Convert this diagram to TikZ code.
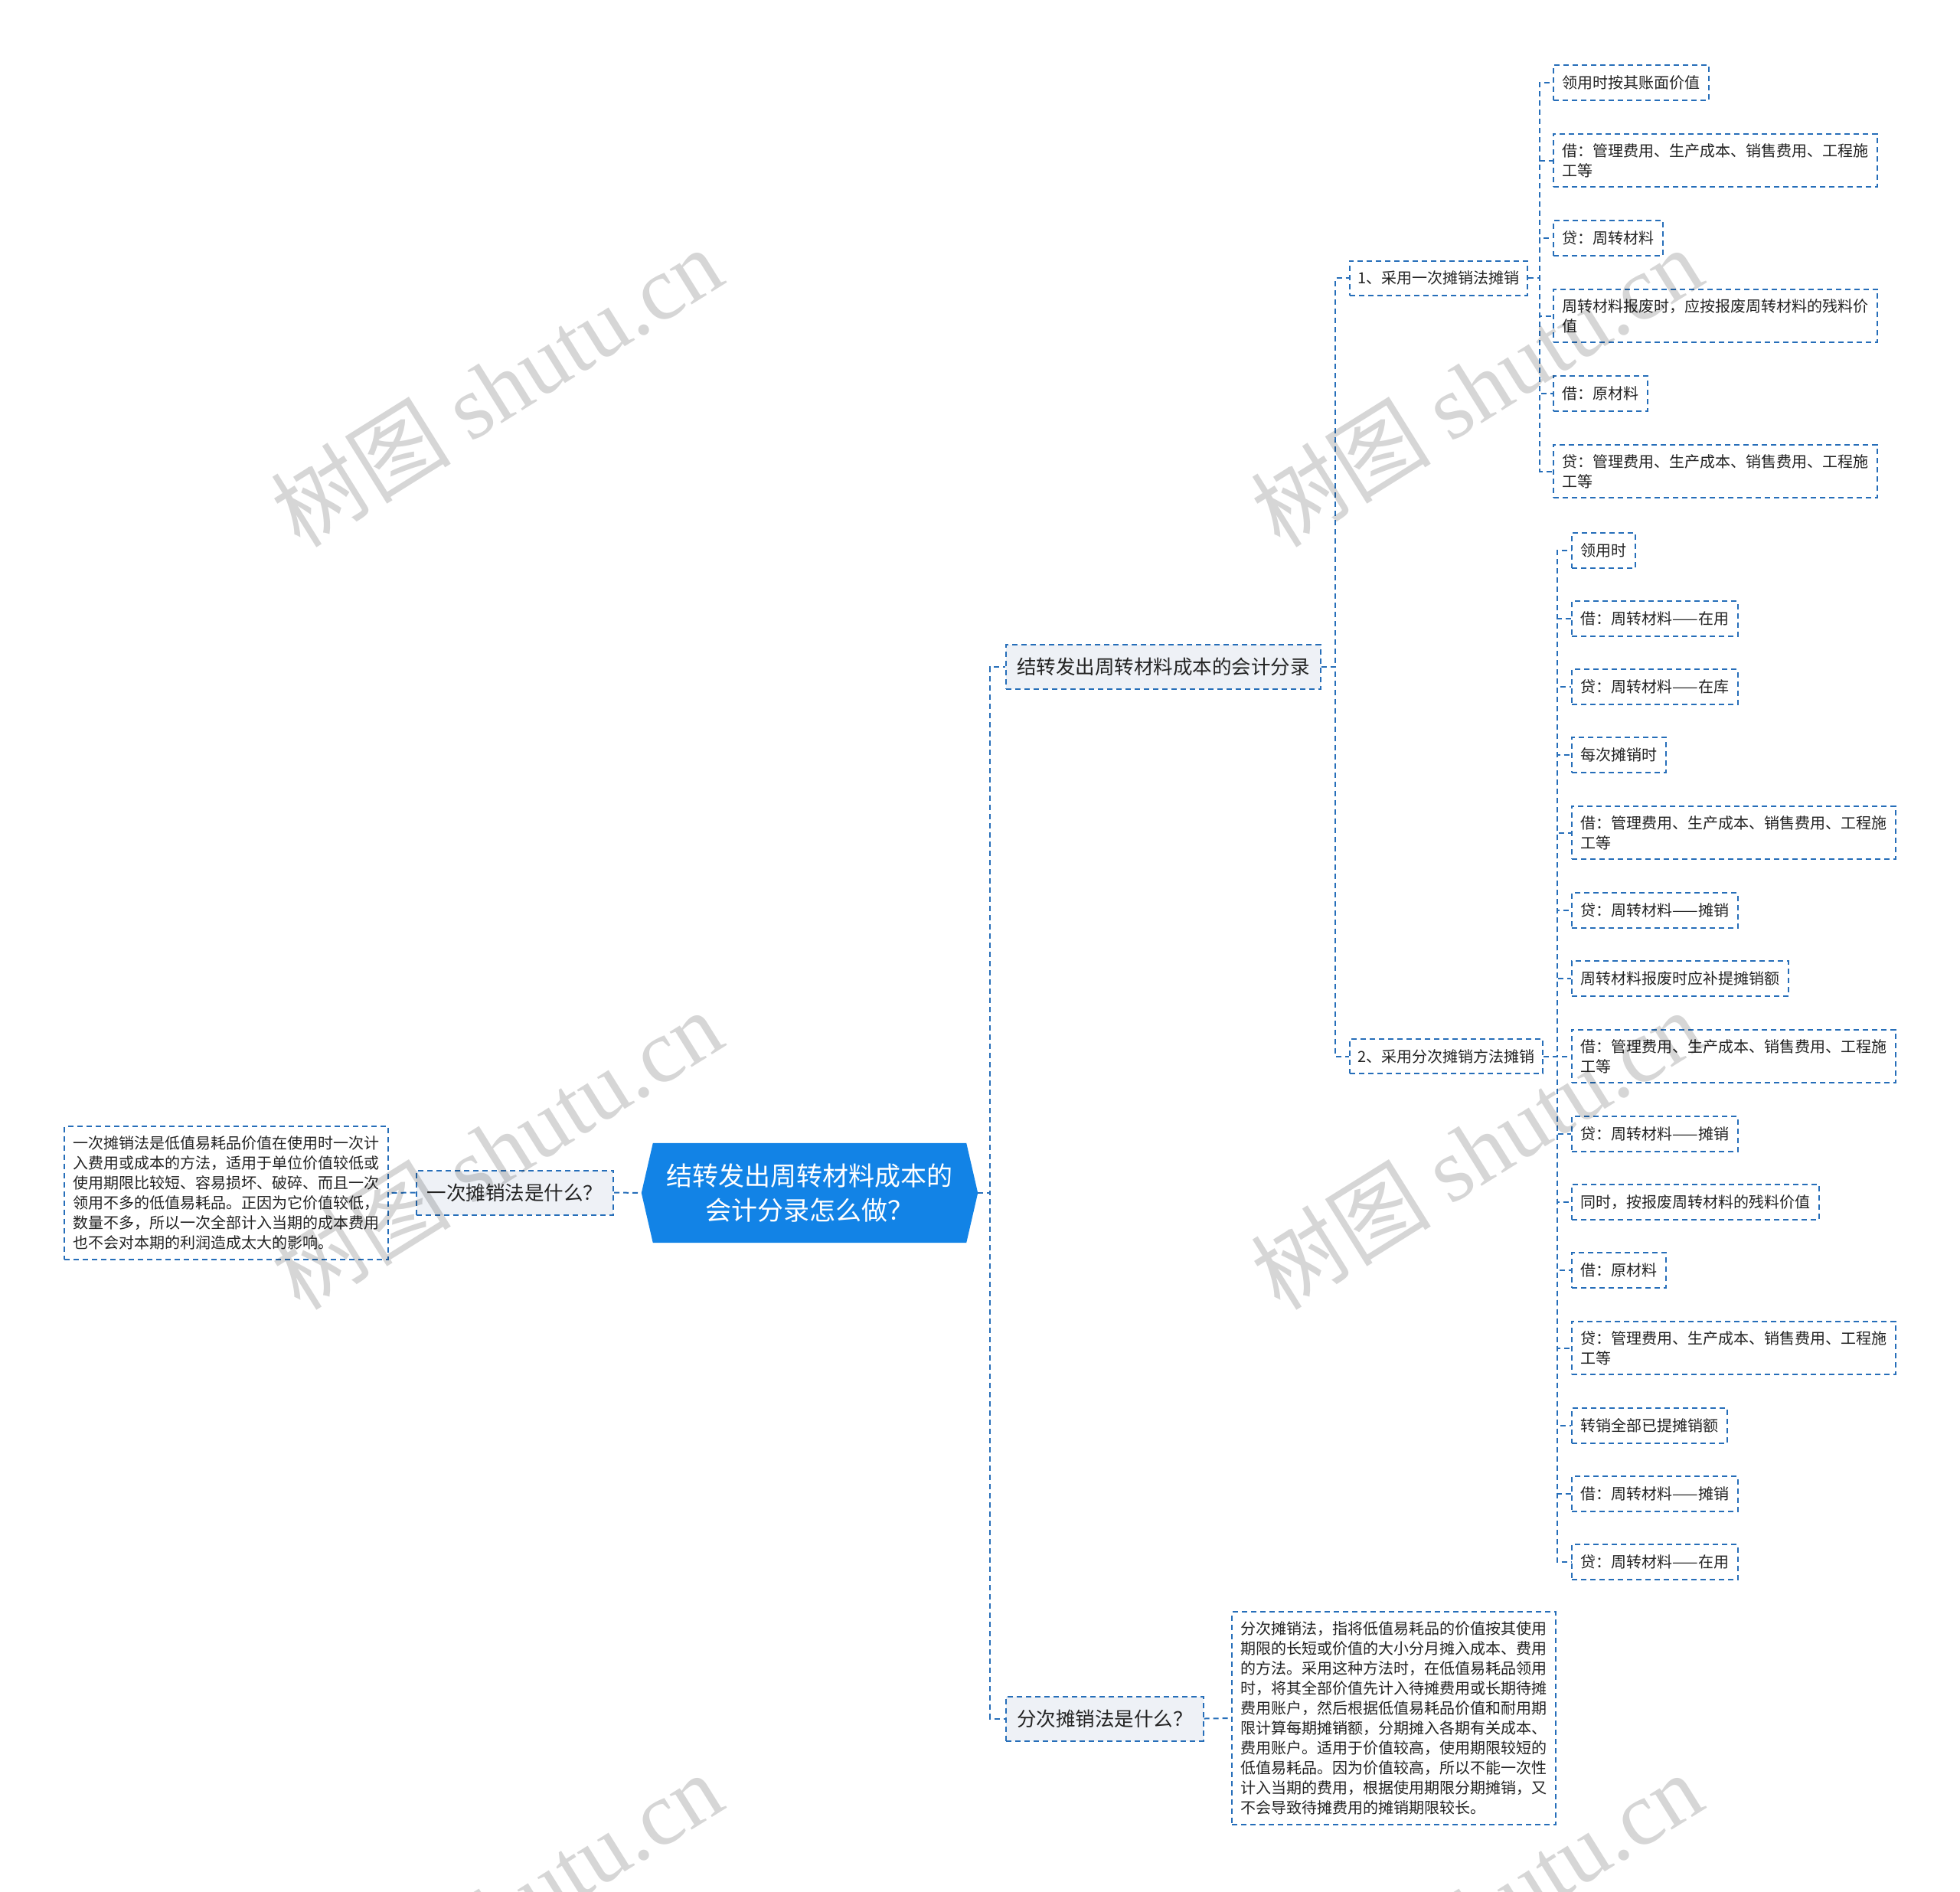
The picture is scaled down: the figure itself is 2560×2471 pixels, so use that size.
\documentclass[tikz,border=0pt]{standalone}
\usepackage{fontspec}
\setmainfont{Noto Sans CJK SC}
\newfontfamily\cjk{Noto Sans CJK SC}
\newfontfamily\wmfont{Liberation Serif}
\usetikzlibrary{backgrounds}
\definecolor{rootblue}{RGB}{18,131,230}
\definecolor{lineblue}{RGB}{38,110,185}
\definecolor{lonefill}{RGB}{238,241,246}
\definecolor{txt}{RGB}{35,35,35}
\definecolor{wmgray}{RGB}{214,214,214}
\tikzset{
  conn/.style={draw=lineblue, line width=2pt, dash pattern=on 7pt off 5pt},
  dbox/.style={draw=lineblue, line width=2pt, dash pattern=on 7pt off 5pt, text=txt},
  lonebox/.style={dbox, fill=lonefill, font=\fontsize{25.5}{32}\selectfont, inner xsep=14pt, inner ysep=6pt, minimum height=58pt},
  ltwobox/.style={dbox, font=\fontsize{20}{26}\selectfont, inner xsep=10.5pt, inner ysep=6pt, minimum height=45pt},
  leaf/.style={dbox, font=\fontsize{20}{26}\selectfont, inner xsep=11.5pt, inner ysep=12.5pt, minimum height=46pt, align=left, anchor=west},
  rootbox/.style={minimum width=439pt, minimum height=130pt, inner sep=0pt},
  roottext/.style={text=white, font=\fontsize{34}{45}\selectfont, align=center, inner sep=0pt},
  wm/.style={text=wmgray, font=\fontsize{118}{118}\selectfont, rotate=32, inner sep=0pt}
}
\begin{document}
\begin{tikzpicture}[x=1pt,y=-1pt]
\useasboundingbox (0,0) rectangle (2560,2471);
\fill[white] (0,0) rectangle (2560,2471);

% spine coordinates
\coordinate (sp1) at (1293,0);
\coordinate (sp2) at (1744,0);
\coordinate (sp3) at (2011,0);
\coordinate (sp4) at (2034,0);

% root
\node[rootbox] (root) at (1057.5,1558) {};
\fill[rootblue] (root.west) -- ([xshift=15pt]root.north west) -- ([xshift=-15pt]root.north east) -- (root.east) -- ([xshift=-15pt]root.south east) -- ([xshift=15pt]root.south west) -- cycle;
\node[roottext] (roottxt) at (root.center) {结转发出周转材料成本的\\会计分录怎么做？};

% left side
\node[lonebox, anchor=east] (q1) at (802,1557.5) {一次摊销法是什么？};
\node[leaf, anchor=east] (t1) at (508,1558) {一次摊销法是低值易耗品价值在使用时一次计\\入费用或成本的方法，适用于单位价值较低或\\使用期限比较短、容易损坏、破碎、而且一次\\领用不多的低值易耗品。正因为它价值较低，\\数量不多，所以一次全部计入当期的成本费用\\也不会对本期的利润造成太大的影响。};

% right level 1
\node[lonebox, anchor=west] (n1) at (1313,871) {结转发出周转材料成本的会计分录};
\node[lonebox, anchor=west] (q2) at (1313,2244.5) {分次摊销法是什么？};
\node[leaf, anchor=west] (t2) at (1608,2244) {分次摊销法，指将低值易耗品的价值按其使用\\期限的长短或价值的大小分月摊入成本、费用\\的方法。采用这种方法时，在低值易耗品领用\\时，将其全部价值先计入待摊费用或长期待摊\\费用账户，然后根据低值易耗品价值和耐用期\\限计算每期摊销额，分期摊入各期有关成本、\\费用账户。适用于价值较高，使用期限较短的\\低值易耗品。因为价值较高，所以不能一次性\\计入当期的费用，根据使用期限分期摊销，又\\不会导致待摊费用的摊销期限较长。};

% level 2
\node[ltwobox, anchor=west] (m1) at (1762,363) {1、采用一次摊销法摊销};
\node[ltwobox, anchor=west] (m2) at (1762,1379.5) {2、采用分次摊销方法摊销};

% group 1 leaves
\node[leaf] (a1) at (2028,108) {领用时按其账面价值};
\node[leaf] (a2) at (2028,209.5) {借：管理费用、生产成本、销售费用、工程施\\工等};
\node[leaf] (a3) at (2028,311) {贷：周转材料};
\node[leaf] (a4) at (2028,412.5) {周转材料报废时，应按报废周转材料的残料价\\值};
\node[leaf] (a5) at (2028,514) {借：原材料};
\node[leaf] (a6) at (2028,615.5) {贷：管理费用、生产成本、销售费用、工程施\\工等};

% group 2 leaves
\node[leaf] (b1) at (2052,719) {领用时};
\node[leaf] (b2) at (2052,808) {借：周转材料——在用};
\node[leaf] (b3) at (2052,897) {贷：周转材料——在库};
\node[leaf] (b4) at (2052,986) {每次摊销时};
\node[leaf] (b5) at (2052,1087.5) {借：管理费用、生产成本、销售费用、工程施\\工等};
\node[leaf] (b6) at (2052,1189) {贷：周转材料——摊销};
\node[leaf] (b7) at (2052,1278) {周转材料报废时应补提摊销额};
\node[leaf] (b8) at (2052,1379.5) {借：管理费用、生产成本、销售费用、工程施\\工等};
\node[leaf] (b9) at (2052,1481) {贷：周转材料——摊销};
\node[leaf] (b10) at (2052,1570) {同时，按报废周转材料的残料价值};
\node[leaf] (b11) at (2052,1659) {借：原材料};
\node[leaf] (b12) at (2052,1760.5) {贷：管理费用、生产成本、销售费用、工程施\\工等};
\node[leaf] (b13) at (2052,1862) {转销全部已提摊销额};
\node[leaf] (b14) at (2052,1951) {借：周转材料——摊销};
\node[leaf] (b15) at (2052,2040) {贷：周转材料——在用};

% connectors
\draw[conn] (q1.east) -- (root.west);
\draw[conn] (q1.west) -- (t1.east);
\draw[conn] (q2.east) -- (t2.west);
\foreach \c in {n1,q2} \draw[conn] (root.east) -- (root.east -| sp1) |- (\c.west);
\foreach \c in {m1,m2} \draw[conn] (n1.east) -- (n1.east -| sp2) |- (\c.west);
\foreach \c in {a1,a2,a3,a4,a5,a6} \draw[conn] (m1.east) -- (m1.east -| sp3) |- (\c.west);
\foreach \c in {b1,b2,b3,b4,b5,b6,b7,b8,b9,b10,b11,b12,b13,b14,b15} \draw[conn] (m2.east) -- (m2.east -| sp4) |- (\c.west);

% watermarks
\begin{scope}[blend mode=multiply]
\node[wm] (wm1) at (648,505) {{\cjk 树图} {\wmfont shutu.cn}};
\node[wm] (wm2) at (1928,505) {{\cjk 树图} {\wmfont shutu.cn}};
\node[wm] (wm3) at (648,1501) {{\cjk 树图} {\wmfont shutu.cn}};
\node[wm] (wm4) at (1928,1501) {{\cjk 树图} {\wmfont shutu.cn}};
\node[wm] (wm5) at (648,2497) {{\cjk 树图} {\wmfont shutu.cn}};
\node[wm] (wm6) at (1928,2497) {{\cjk 树图} {\wmfont shutu.cn}};
\end{scope}
\end{tikzpicture}
\end{document}
